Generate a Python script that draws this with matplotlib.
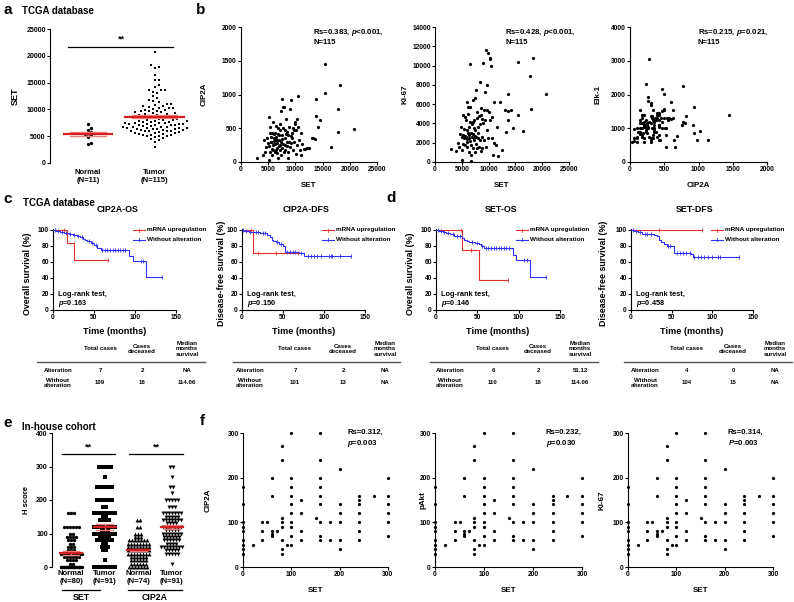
import numpy as np
import matplotlib
matplotlib.use("Agg")
import matplotlib.pyplot as plt

plt.rcParams['font.family'] = ['Liberation Sans', 'DejaVu Sans']
plt.rcParams['font.weight'] = 'bold'
plt.rcParams['axes.labelweight'] = 'bold'
plt.rcParams['mathtext.fontset'] = 'custom'
plt.rcParams['mathtext.rm'] = 'Liberation Sans:bold'
plt.rcParams['mathtext.it'] = 'Liberation Sans:italic:bold'
plt.rcParams['mathtext.bf'] = 'Liberation Sans:bold'
plt.rcParams['axes.linewidth'] = 0.8

# ---------------- DATA ----------------
# Panel a / b (TCGA)
normal_set = [7300, 6500, 6200, 5800, 5650, 5500, 5350, 5150, 4850, 3750, 3550]
tcga_set = [3000, 4000, 4250, 4450, 4600, 4850, 5000, 5090, 5100, 5200,
            5270, 5300, 5390, 5450, 5570, 5600, 5650, 5700, 5750, 5880,
            5900, 5950, 6000, 6050, 6070, 6150, 6190, 6250, 6310, 6370,
            6420, 6450, 6500, 6550, 6600, 6680, 6700, 6750, 6800, 6850,
            6920, 7000, 7050, 7100, 7150, 7200, 7250, 7290, 7350, 7400,
            7450, 7500, 7550, 7600, 7650, 7720, 7780, 7850, 7900, 8030,
            8050, 8100, 8150, 8250, 8330, 8400, 8450, 8520, 8640, 8700,
            8800, 8850, 8950, 9000, 9100, 9150, 9250, 9300, 9440, 9560,
            9650, 9700, 9740, 9860, 9950, 10050, 10170, 10250, 10350, 10470,
            10550, 10660, 10800, 10950, 11090, 11300, 11500, 11800, 12100, 12500,
            13000, 13300, 13600, 13700, 13700, 14150, 14470, 15400, 15440, 16500,
            17770, 17900, 18250, 20700, 8600]
tcga_cip2a = [54, 104, 326, 153, 227, 350, 280, 662, 30, 240,
              424, 153, 523, 300, 375, 301, 200, 104, 430, 597,
              252, 178, 310, 420, 350, 260, 424, 153, 265, 533,
              180, 330, 375, 203, 280, 326, 140, 420, 54, 498,
              400, 230, 330, 563, 474, 252, 180, 104, 300, 760,
              400, 203, 340, 938, 270, 820, 498, 810, 153, 474,
              250, 350, 178, 420, 637, 301, 230, 449, 400, 153,
              300, 520, 227, 780, 276, 390, 914, 350, 424, 178,
              500, 474, 300, 597, 560, 120, 474, 252, 632, 978,
              523, 326, 178, 104, 424, 270, 200, 197, 207, 203,
              360, 351, 340, 933, 686, 518, 622, 1447, 1022, 218,
              780, 440, 1136, 493, 60]
tcga_ki67 = [1310, 1140, 2000, 1590, 2900, 3670, 1200, 2630, 176, 1900,
             2800, 4870, 2450, 3400, 4700, 1760, 2700, 2560, 4360, 6250,
             1590, 3320, 2350, 2100, 2970, 5000, 5740, 1070, 2450, 3670,
             2750, 4200, 10130, 5670, 2200, 700, 1800, 3000, 100, 3910,
             2630, 2900, 4100, 6430, 1420, 2530, 3500, 4360, 2300, 6600,
             3320, 1070, 2650, 7470, 1900, 2630, 5220, 4600, 1420, 3670,
             3000, 2450, 1590, 4800, 8330, 2280, 3900, 4870, 5570, 1420,
             2600, 4500, 4010, 10230, 2280, 5400, 7290, 4400, 11600, 1600,
             3300, 7990, 5400, 11270, 2500, 5200, 10750, 4360, 10680, 9990,
             4700, 2460, 726, 6250, 1940, 1760, 3670, 630, 6250, 1250,
             5390, 3100, 5300, 7080, 4360, 5400, 3500, 10340, 4870, 3180,
             8920, 5530, 10820, 7080, 1100]
tcga_elk1 = [620, 750, 1300, 900, 1100, 1000, 3043, 450, 600, 950,
             1380, 1550, 1020, 700, 1250, 1700, 1200, 580, 1450, 1280,
             850, 1150, 600, 1100, 1200, 1930, 800, 820, 1050, 1300,
             1000, 1250, 900, 1100, 750, 1350, 1250, 650, 980, 1580,
             1450, 2302, 700, 1300, 2154, 1150, 800, 700, 1350, 1100,
             1300, 600, 1550, 1620, 1000, 1370, 2006, 1150, 1000, 1200,
             1100, 880, 750, 1050, 650, 1750, 900, 1300, 750, 1150,
             650, 800, 1250, 2252, 1200, 1400, 1100, 950, 1100, 1300,
             1300, 1000, 1150, 1787, 1250, 900, 1500, 1050, 1550, 652,
             450, 1000, 1400, 1000, 1250, 1800, 1050, 850, 1400, 700,
             1300, 1100, 800, 850, 780, 1000, 1300, 1393, 928, 1050,
             1180, 650, 652, 1550, 720]
a_groups = ["Normal\n(N=11)", "Tumor\n(N=115)"]
b_stats = ["Rs=0.383, $\\it{p}$<0.001,\nN=115",
           "Rs=0.428, $\\it{p}$<0.001,\nN=115",
           "Rs=0.215, $\\it{p}$=0.021,\nN=115"]

# Panels c / d (Kaplan-Meier step data: event times, survival %, end, censor times)
km_titles = ["CIP2A-OS", "CIP2A-DFS", "SET-OS", "SET-DFS"]
km_ylabels = ["Overall survival (%)", "Disease-free survival (%)",
              "Overall survival (%)", "Disease-free survival (%)"]
km_pvals = ["0.163", "0.150", "0.146", "0.458"]
up_t = [[16.5, 25], [13], [32, 52], []]
up_s = [[83.3, 62.5], [71.4], [75, 37.5], []]
up_end = [67.5, 68, 87.5, 87]
up_cens = [[14, 67.5], [11, 20, 42, 68], [30, 42, 87.5], [35, 87]]
wo_t = [[4, 9, 14, 19, 24, 29, 33, 36, 39, 42, 46, 50, 54, 58, 93, 97, 113],
        [3, 8, 14, 22, 31, 34, 36, 38, 41, 45, 50, 53, 70, 76],
        [4, 8, 12, 17, 22, 27, 31, 34, 37, 40, 47, 52, 55, 58, 93, 97, 114],
        [4, 9, 13, 28, 32, 34, 37, 40, 44, 53, 74, 76]]
wo_s = [[99, 98, 96, 95, 94, 93, 91, 89, 87, 86, 84, 81, 78, 75.5, 68, 61.5, 41],
        [99, 98, 97, 96.5, 94, 91, 88, 86, 85, 83, 80, 73, 71.5, 67],
        [99, 98, 96, 94.5, 93, 92, 90, 87, 86, 85, 84, 82.5, 80, 77, 69, 62.5, 41.5],
        [99, 97, 95.5, 94, 92, 88, 85, 83, 80, 71, 69.5, 66]]
wo_end = [133, 133, 133, 133]
wo_cens = [[2, 6, 11, 16, 21, 26, 31, 35, 44, 48, 52, 60, 63, 66, 70, 73, 76, 79, 82, 85, 88, 107, 110, 133],
           [1, 5, 10, 17, 20, 25, 28, 43, 48, 55, 58, 62, 65, 72, 80, 84, 88, 92, 96, 106, 108, 110, 120, 133],
           [2, 6, 10, 15, 20, 25, 29, 44, 50, 56, 60, 63, 66, 70, 73, 76, 79, 82, 85, 88, 107, 110, 133],
           [2, 6, 11, 17, 20, 24, 45, 48, 56, 60, 64, 68, 72, 78, 82, 86, 90, 95, 100, 107, 109, 133]]
legend_labels = ["mRNA upregulation", "Without alteration"]
tab_header = ["Total cases", "Cases\ndeceased", "Median\nmonths\nsurvival"]
tab_rows = ["Alteration", "Without\nalteration"]
tab_vals = [[["7", "2", "NA"], ["109", "16", "114.06"]],
            [["7", "2", "NA"], ["101", "13", "NA"]],
            [["6", "2", "51.12"], ["110", "16", "114.06"]],
            [["4", "0", "NA"], ["104", "15", "NA"]]]

# Panel e (H score value -> count)
e_vals = [[0, 10, 20, 30, 40, 50, 60, 70, 80, 90, 100, 120, 160],
          [0, 20, 50, 60, 70, 80, 90, 100, 110, 120, 140, 150, 160, 180, 200, 240, 270, 300],
          [0, 10, 20, 30, 40, 50, 60, 70, 80, 90, 100, 120, 140],
          [10, 40, 50, 60, 70, 80, 90, 100, 110, 120, 130, 140, 150, 160, 180, 200, 220, 240, 270, 300]]
e_counts = [[28, 2, 4, 6, 14, 3, 3, 2, 3, 4, 2, 6, 3],
            [16, 1, 2, 3, 2, 6, 4, 8, 3, 10, 4, 2, 12, 2, 6, 6, 1, 5],
            [7, 6, 6, 6, 8, 8, 8, 8, 7, 3, 3, 2, 2],
            [1, 5, 5, 8, 4, 6, 6, 7, 5, 7, 4, 7, 5, 7, 3, 5, 1, 2, 1, 2]]
e_labels = ["Normal\n(N=80)", "Tumor\n(N=91)", "Normal\n(N=74)", "Tumor\n(N=91)"]
e_genes = ["SET", "CIP2A"]

# Panel f (in-house H scores)
f_set = [0, 0, 0, 0, 0, 0, 0, 0, 0, 20, 40, 40, 40, 50, 60, 60, 60, 60, 60, 70,
         80, 80, 80, 80, 80, 80, 80, 80, 90, 100, 100, 100, 100, 100, 100, 100, 100, 100, 100,
         120, 120, 120, 120, 150, 160, 160, 160, 160, 160, 160, 160, 160, 160, 180, 180,
         200, 200, 200, 200, 200, 200, 240, 240, 240, 240, 240, 240, 240, 270,
         300, 300, 300, 300, 300, 300]
f_cip2a = [180, 140, 100, 90, 80, 60, 50, 40, 30, 50, 100, 80, 60, 100, 200, 160, 80, 75, 70, 80,
           270, 240, 110, 100, 90, 60, 40, 30, 50, 300, 200, 180, 160, 140, 120, 100, 90, 70, 50,
           150, 120, 80, 60, 110, 300, 240, 200, 180, 160, 140, 100, 70, 60, 100, 60,
           220, 140, 120, 100, 60, 40, 160, 150, 140, 120, 100, 80, 60, 160,
           200, 160, 140, 120, 100, 70]
f_pakt = [180, 140, 100, 90, 80, 60, 50, 40, 30, 50, 100, 80, 60, 100, 200, 160, 80, 75, 70, 80,
          270, 240, 110, 100, 90, 60, 40, 30, 50, 300, 200, 180, 160, 140, 120, 100, 90, 70, 50,
          150, 120, 80, 60, 110, 300, 240, 200, 180, 160, 140, 100, 70, 60, 100, 60,
          220, 140, 120, 100, 60, 40, 160, 150, 140, 120, 100, 80, 60, 160,
          200, 160, 140, 120, 100, 70]
f_ki67 = [180, 140, 100, 90, 80, 60, 50, 40, 30, 50, 100, 80, 60, 100, 200, 160, 80, 75, 70, 80,
          270, 240, 110, 100, 90, 60, 40, 30, 50, 300, 200, 180, 160, 140, 120, 100, 90, 70, 50,
          150, 120, 80, 60, 110, 300, 240, 200, 180, 160, 140, 100, 70, 60, 100, 60,
          220, 140, 120, 100, 60, 40, 160, 150, 140, 120, 100, 80, 60, 160,
          200, 160, 140, 120, 100, 70]
f_stats = ["Rs=0.312,\n$\\it{p}$=0.003", "Rs=0.232,\n$\\it{p}$=0.030", "Rs=0.314,\n$\\it{P}$=0.003"]

# ---------------- FIGURE ----------------
W, H = 794, 602
fig = plt.figure(figsize=(W / 100, H / 100), dpi=100)
RED = '#e03030'
MEANRED = '#d42020'
SEMRED = '#f08080'
BLUE = '#3030ff'


def ax_px(x0, y0, x1, y1):
    return fig.add_axes([x0 / W, 1 - y1 / H, (x1 - x0) / W, (y1 - y0) / H])


def ftext(x, y, s, **kw):
    kw.setdefault('ha', 'left')
    kw.setdefault('va', 'center')
    return fig.text(x / W, 1 - y / H, s, **kw)


def fline(x0, x1, y0, y1, **kw):
    fig.add_artist(plt.Line2D([x0 / W, x1 / W], [1 - y0 / H, 1 - y1 / H], **kw))


def style(ax, fs=5, bottom=True):
    for s in ['top', 'right']:
        ax.spines[s].set_visible(False)
    if not bottom:
        ax.spines['bottom'].set_visible(False)
    ax.tick_params(direction='out', length=2, width=0.8, labelsize=fs, pad=1)


def swarm_offsets(vals, ypx, d):
    vals = np.asarray(vals, float)
    order = np.argsort(vals)
    placed = []
    offs = np.zeros(len(vals))
    for i in order:
        y = vals[i] * ypx
        k = 0
        while True:
            cands = [0.0] if k == 0 else [k * d * 0.5, -k * d * 0.5]
            found = None
            for c in cands:
                if all((c - px) ** 2 + (y - py) ** 2 >= d * d for px, py in placed if abs(y - py) < d):
                    found = c
                    break
            if found is not None:
                break
            k += 1
        offs[i] = found
        placed.append((found, y))
    return offs


def row_offsets(vals, d, maxw):
    vals = np.asarray(vals, float)
    offs = np.zeros(len(vals))
    for v in np.unique(vals):
        idx = np.where(vals == v)[0]
        n = len(idx)
        w = min((n - 1) * d, maxw)
        offs[idx] = np.linspace(-w / 2, w / 2, n) if n > 1 else 0
    return offs


def mean_sem(ax, vals, pos, hw):
    v = np.asarray(vals, float)
    m = v.mean()
    se = v.std(ddof=1) / np.sqrt(len(v))
    ax.plot([pos - hw * 0.75, pos + hw * 0.75], [m + se] * 2, color=SEMRED, lw=1.0, zorder=4)
    ax.plot([pos - hw * 0.75, pos + hw * 0.75], [m - se] * 2, color=SEMRED, lw=1.0, zorder=4)
    ax.plot([pos, pos], [m - se, m + se], color=SEMRED, lw=1.0, zorder=4)
    ax.plot([pos - hw, pos + hw], [m, m], color=MEANRED, lw=1.6, zorder=5)


# ---- panel letters and headers ----
ftext(3, 10, "a", fontsize=11)
ftext(22, 11, "TCGA database", fontsize=7)
ftext(196, 10, "b", fontsize=11)
ftext(3, 199, "c", fontsize=11)
ftext(23, 203, "TCGA database", fontsize=7)
ftext(386, 198, "d", fontsize=11)
ftext(3, 423, "e", fontsize=11)
ftext(22, 427, "In-house cohort", fontsize=7)
ftext(200, 421, "f", fontsize=11)

# ---- panel a ----
ax = ax_px(50, 29, 185, 163)
style(ax, fs=5, bottom=False)
ax.set_ylim(0, 25000)
ax.set_xlim(0.433, 2.45)
ax.set_yticks([0, 5000, 10000, 15000, 20000, 25000])
ypx = 134 / 25000
xpx = 135 / (2.45 - 0.433)
on = swarm_offsets(normal_set, ypx, 3.4)
ot = swarm_offsets(tcga_set, ypx, 4.0)
ax.plot(1 + on / xpx, normal_set, 'o', ms=2.4, mew=0, color='black', clip_on=False, zorder=3)
ax.plot(2 + ot / xpx, tcga_set, 's', ms=2.0, mew=0, color='black', clip_on=False, zorder=3)
mean_sem(ax, normal_set, 1, 0.36)
mean_sem(ax, tcga_set, 2, 0.45)
ax.set_xticks([1, 2])
ax.set_xticklabels(a_groups, fontsize=5.5)
ax.tick_params(axis='x', length=0, pad=4)
ax.set_ylabel("SET", fontsize=6.5, labelpad=2)
ax.yaxis.set_label_coords(-30 / 135, 0.5)
ax.plot([0.70, 2.27], [21700, 21700], color='black', lw=0.9, clip_on=False)
ax.text(1.5, 22300, "**", ha='center', va='bottom', fontsize=6.5)

# ---- panel b ----
b_boxes = [(241, 377), (435, 569), (630, 767)]
b_x = [tcga_set, tcga_set, tcga_cip2a]
b_y = [tcga_cip2a, tcga_ki67, tcga_elk1]
b_xlim = [25000, 25000, 2000]
b_ylim = [2000, 14000, 4000]
b_xt = [5000, 5000, 500]
b_yt = [500, 2000, 1000]
b_xlab = ["SET", "SET", "CIP2A"]
b_ylab = ["CIP2A", "Ki-67", "Elk-1"]
b_ylab_off = [33, 27, 28]
b_text_x = [313, 505, 698]
for i in range(3):
    x0, x1 = b_boxes[i]
    ax = ax_px(x0, 27, x1, 162)
    style(ax, fs=4.8)
    ax.set_xlim(0, b_xlim[i])
    ax.set_ylim(0, b_ylim[i])
    ax.set_xticks(np.arange(0, b_xlim[i] + 1, b_xt[i]))
    ax.set_yticks(np.arange(0, b_ylim[i] + 1, b_yt[i]))
    ax.plot(b_x[i], b_y[i], 'o', ms=2.3, mew=0, color='black', clip_on=False)
    ax.set_xlabel(b_xlab[i], fontsize=5.8)
    ax.xaxis.set_label_coords(0.5, -20 / 135)
    ax.set_ylabel(b_ylab[i], fontsize=5.8)
    ax.yaxis.set_label_coords(-b_ylab_off[i] / (x1 - x0), 0.5)
    ftext(b_text_x[i], 27, b_stats[i], fontsize=5.6, va='top', linespacing=1.25)

# ---- panels c / d (KM) ----
km_left = [53, 242, 436, 631]
km_right = [176, 365, 560, 753]
km_ylab_off = [21, 16, 21, 23]
tab_line = [(37, 205), (233, 400), (430, 598), (624, 792)]
tab_cols = [(58, 100, 142, 187), (250, 295, 343, 385), (450, 493, 538, 580), (645, 687, 733, 775)]


def km_curve(ax, t, s, end, cens, color):
    tt = [0] + list(t) + [end]
    ss = [100] + list(s) + [s[-1] if len(s) else 100]
    ax.step(tt, ss, where='post', color=color, lw=0.8, clip_on=False, zorder=3)
    ta = np.array([0] + list(t), float)
    sa = np.array([100] + list(s), float)
    cy = [sa[np.searchsorted(ta, c, side='right') - 1] for c in cens]
    ax.plot(cens, cy, ls='none', marker='|', ms=2.6, mew=0.6, color=color, clip_on=False, zorder=3)


for i in range(4):
    L, R = km_left[i], km_right[i]
    ax = ax_px(L, 229.2, R, 310)
    style(ax, fs=4.8)
    ax.set_xlim(0, 150)
    ax.set_ylim(0, 101)
    ax.set_xticks([0, 50, 100, 150])
    ax.set_yticks([0, 20, 40, 60, 80, 100])
    km_curve(ax, up_t[i], up_s[i], up_end[i], up_cens[i], RED)
    km_curve(ax, wo_t[i], wo_s[i], wo_end[i], wo_cens[i], BLUE)
    ax.set_xlabel("Time (months)", fontsize=6.6)
    ax.xaxis.set_label_coords(0.5, -17 / 81)
    ax.set_ylabel(km_ylabels[i], fontsize=6.4)
    ax.yaxis.set_label_coords(-km_ylab_off[i] / (R - L), 0.45)
    ftext((L + R) / 2 + 3, 210, km_titles[i], fontsize=6.4, ha='center')
    # legend
    for j, (col, lab) in enumerate(zip([RED, BLUE], legend_labels)):
        yy = 230 + 9.5 * j
        fline(L + 80, L + 92, yy, yy, color=col, lw=0.8)
        fline(L + 86, L + 86, yy - 1.5, yy + 1.5, color=col, lw=0.6)
        ftext(L + 94, yy, lab, fontsize=4.6)
    ftext(L + 5, 294, "Log-rank test,", fontsize=5.3)
    ftext(L + 5, 303.5, "$\\it{p}$=" + km_pvals[i], fontsize=5.3)
    # table
    lx0, lx1 = tab_line[i]
    c0, c1, c2, c3 = tab_cols[i]
    for cx, h in zip([c1, c2, c3], tab_header):
        ftext(cx, 349, h, fontsize=4.4, ha='center', linespacing=1.15)
    fline(lx0, lx1, 362, 362, color='#555555', lw=1.0)
    for r, yy in enumerate([371, 383]):
        ftext(c0, yy, tab_rows[r], fontsize=4.4, ha='center', linespacing=1.1)
        for cx, v in zip([c1, c2, c3], tab_vals[i][r]):
            ftext(cx, yy, v, fontsize=4.4, ha='center')

# ---- panel e ----
ax = ax_px(52, 433, 186, 567)
style(ax, fs=5, bottom=False)
ax.set_ylim(0, 400)
ax.set_xlim(0.43, 4.42)
ax.set_yticks([0, 100, 200, 300, 400])
expx = 134 / (4.42 - 0.43)
markers = ['o', 's', '^', 'v']
msz = [2.4, 2.2, 2.8, 2.8]
for k in range(4):
    vals = np.repeat(e_vals[k], e_counts[k])
    offs = row_offsets(vals, 3.0, 21)
    ax.plot(k + 1 + offs / expx, vals, markers[k], ms=msz[k], mew=0, color='black', clip_on=False, zorder=3)
    mean_sem(ax, vals, k + 1, 0.33)
ax.set_xticks([1, 2, 3, 4])
ax.set_xticklabels(e_labels, fontsize=5.6)
ax.tick_params(axis='x', length=0, pad=2)
ax.set_ylabel("H score", fontsize=5.6)
ax.yaxis.set_label_coords(-22 / 134, 0.5)
for gx0, gx1 in [(0.72, 2.32), (2.72, 4.33)]:
    ax.plot([gx0, gx1], [337, 337], color='black', lw=0.9, clip_on=False)
    ax.text((gx0 + gx1) / 2, 345, "**", ha='center', va='bottom', fontsize=6.5)
fline(62, 100, 590, 590, color='black', lw=0.9)
fline(128, 182, 590, 590, color='black', lw=0.9)
ftext(81, 598, e_genes[0], fontsize=6.3, ha='center')
ftext(155, 598, e_genes[1], fontsize=6.3, ha='center')

# ---- panel f ----
f_boxes = [(243, 388), (435, 582), (628, 773)]
f_y = [f_cip2a, f_pakt, f_ki67]
f_ylab = ["CIP2A", "pAkt", "Ki-67"]
f_ylab_off = [31, 8, 23]
f_text_x = [347, 546, 728]
for i in range(3):
    x0, x1 = f_boxes[i]
    ax = ax_px(x0, 433, x1, 567)
    style(ax, fs=4.8)
    ax.set_xlim(0, 300)
    ax.set_ylim(0, 300)
    ax.set_xticks([0, 100, 200, 300])
    ax.set_yticks([0, 100, 200, 300])
    ax.plot(f_set, f_y[i], 'o', ms=2.3, mew=0, color='black', clip_on=False)
    ax.set_xlabel("SET", fontsize=5.8)
    ax.xaxis.set_label_coords(0.5, -20 / 134)
    ax.set_ylabel(f_ylab[i], fontsize=5.8)
    ax.yaxis.set_label_coords(-f_ylab_off[i] / (x1 - x0), 0.5)
    ftext(f_text_x[i], 429, f_stats[i], fontsize=5.6, va='top', linespacing=1.3)

fig.savefig("out.png", dpi=100)
